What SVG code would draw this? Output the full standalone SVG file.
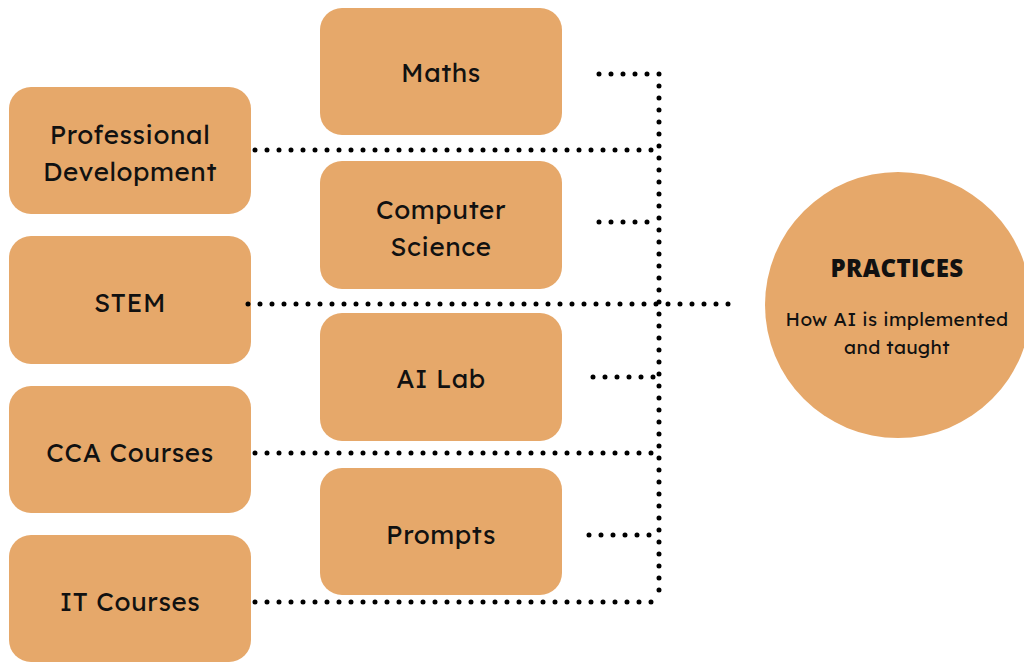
<svg xmlns="http://www.w3.org/2000/svg" width="1024" height="664" viewBox="0 0 1024 664">
<style>
.box{fill:#E6A86A}
.lbl{font-family:"Lexend","Open Sans","Liberation Sans",sans-serif;font-size:26px;letter-spacing:0.6px;fill:#111;text-anchor:middle;dominant-baseline:central}
.sub{font-family:"Lexend","Open Sans","Liberation Sans",sans-serif;font-size:19px;letter-spacing:0.4px;fill:#111;text-anchor:middle;dominant-baseline:central}
.dot{fill:none;stroke:#000;stroke-width:5;stroke-linecap:round;stroke-dasharray:0 12}
</style>
<rect width="1024" height="664" fill="#fff"/>
<g id="prof-dev"><rect class="box" x="9" y="87" width="242" height="127" rx="22"/><text class="lbl" x="130" y="134">Professional</text><text class="lbl" x="130" y="171">Development</text></g>
<g id="stem"><rect class="box" x="9" y="236" width="242" height="128" rx="22"/><text class="lbl" x="130" y="302">STEM</text></g>
<g id="cca"><rect class="box" x="9" y="386" width="242" height="127" rx="22"/><text class="lbl" x="130" y="452">CCA Courses</text></g>
<g id="it"><rect class="box" x="9" y="535" width="242" height="127" rx="22"/><text class="lbl" x="130" y="601">IT Courses</text></g>
<g id="maths"><rect class="box" x="320" y="8" width="242" height="127" rx="22"/><text class="lbl" x="441" y="72">Maths</text></g>
<g id="cs"><rect class="box" x="320" y="161" width="242" height="128" rx="22"/><text class="lbl" x="441" y="209">Computer</text><text class="lbl" x="441" y="246">Science</text></g>
<g id="ailab"><rect class="box" x="320" y="313" width="242" height="128" rx="22"/><text class="lbl" x="441" y="378">AI Lab</text></g>
<g id="prompts"><rect class="box" x="320" y="468" width="242" height="127" rx="22"/><text class="lbl" x="441" y="534">Prompts</text></g>
<g id="practices"><circle class="box" cx="898" cy="305" r="133"/>
<text x="897" y="267" font-family="'Open Sans','Liberation Sans',sans-serif" font-weight="800" font-size="24" letter-spacing="0.4" fill="#111" text-anchor="middle" dominant-baseline="central">PRACTICES</text>
<text class="sub" x="897" y="319">How AI is implemented</text>
<text class="sub" x="897" y="347">and taught</text>
</g>
<g id="connectors">
<path class="dot" d="M659 74V602"/>
<path class="dot" d="M599 74H659"/>
<path class="dot" d="M255 150H659"/>
<path class="dot" d="M599 222H659"/>
<path class="dot" d="M248 304H736"/>
<path class="dot" d="M593 377H659"/>
<path class="dot" d="M255 453H659"/>
<path class="dot" d="M589 535H659"/>
<path class="dot" d="M255 602H659"/>
</g>
</svg>
